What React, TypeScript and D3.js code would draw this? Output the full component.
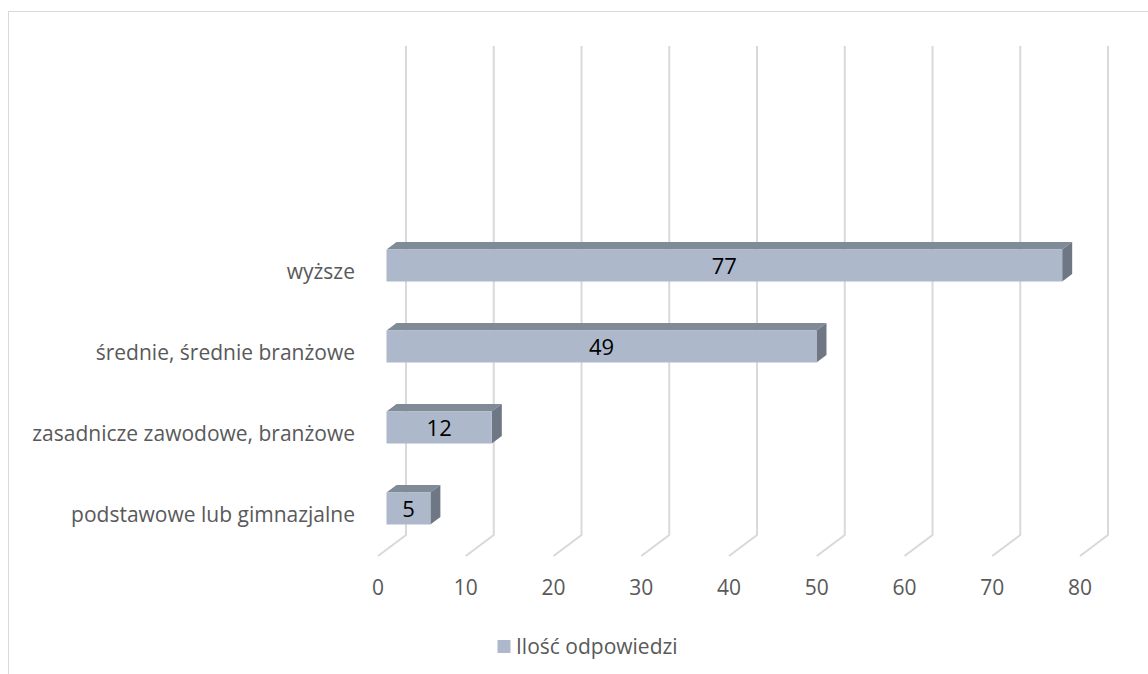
import React from "react";
import * as d3 from "d3";

const categories = ["wyższe", "średnie, średnie branżowe", "zasadnicze zawodowe, branżowe", "podstawowe lub gimnazjalne"];
const values = [77, 49, 12, 5];
const ticks = [0, 10, 20, 30, 40, 50, 60, 70, 80];
const seriesName = "Ilość odpowiedzi";

const W = 1148, H = 674;
const FONT = "'Open Sans', 'Noto Sans', sans-serif";

export default function App() {
  const x = d3.scaleLinear().domain([0, 80]).range([378, 1080]);
  const y = d3.scalePoint<string>().domain(categories).range([225, 549]).padding(0.5);
  const depthX = 28, depthY = -21; // full floor depth
  const gridTop = 46, gridBottom = 535;
  const barOffX = 8.5; // bar front relative to front axis
  const bh = 32, bdx = 10, bdy = -7.5;
  const front = "#adb9cb", top = "#808b98", side = "#6e7783";

  return (
    <svg width={W} height={H} style={{ position: "fixed", left: 0, top: 0, background: "#fff" }} fontFamily={FONT}>
      <rect x={8.5} y={11.5} width={W + 10} height={H + 10} fill="none" stroke="#d9d9d9" strokeWidth={1} />
      {ticks.map((t) => (
        <g key={t}>
          <polyline
            points={`${x(t) + depthX},${gridTop} ${x(t) + depthX},${gridBottom} ${x(t)},${gridBottom - depthY}`}
            fill="none"
            stroke="#d9d9d9"
            strokeWidth={2}
          />
          <text x={x(t)} y={595} textAnchor="middle" fontSize={21} fill="#595959">
            {t}
          </text>
        </g>
      ))}
      {categories.map((c, i) => {
        const cy = y(c)!;
        const x0 = x(0) + barOffX;
        const x1 = x(values[i]) + barOffX;
        const y0 = cy - bh / 2;
        const y1 = cy + bh / 2;
        return (
          <g key={c}>
            <polygon points={`${x0},${y0} ${x0 + bdx},${y0 + bdy} ${x1 + bdx},${y0 + bdy} ${x1},${y0}`} fill={top} />
            <polygon points={`${x1},${y0} ${x1 + bdx},${y0 + bdy} ${x1 + bdx},${y1 + bdy} ${x1},${y1}`} fill={side} />
            <rect x={x0} y={y0} width={x1 - x0} height={bh} fill={front} />
            <text x={(x0 + x1) / 2} y={cy + 8.5} textAnchor="middle" fontSize={22} fill="#000">
              {values[i]}
            </text>
            <text x={355} y={cy + 13.5} textAnchor="end" fontSize={21} fill="#595959">
              {c}
            </text>
          </g>
        );
      })}
      <rect x={497.5} y={640} width={13} height={13} fill={front} />
      <text x={516} y={654} fontSize={21} fill="#595959">
        {seriesName}
      </text>
    </svg>
  );
}
